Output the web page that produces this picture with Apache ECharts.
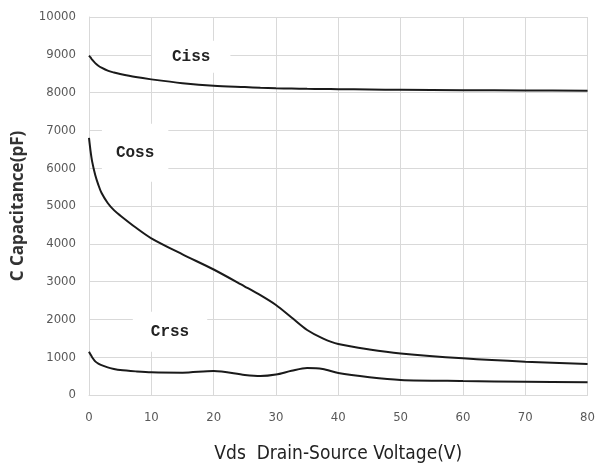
<!DOCTYPE html>
<html>
<head>
<meta charset="utf-8">
<script src="https://cdn.jsdelivr.net/npm/echarts@6/dist/echarts.min.js"></script>
<style>html,body{margin:0;padding:0;background:#fff;}#c{width:598px;height:473px;}</style>
</head>
<body>
<div id="c"></div>
<script>
// Drain-source voltage sample points (V)
var voltage = [0, 0.25, 0.5, 1, 1.5, 2, 3, 4, 5, 7.5, 10, 15, 20, 25, 27.5, 30, 32.5, 35, 37.5, 40, 45, 50, 60, 70, 80];
// Capacitances (pF)
var ciss = [8980, 8930, 8870, 8780, 8710, 8660, 8580, 8530, 8490, 8410, 8350, 8250, 8180, 8145, 8128, 8115, 8108, 8100, 8095, 8090, 8082, 8075, 8065, 8058, 8050];
var coss = [6800, 6450, 6180, 5820, 5560, 5350, 5080, 4890, 4750, 4430, 4145, 3720, 3320, 2870, 2640, 2380, 2050, 1720, 1500, 1350, 1205, 1100, 970, 880, 820];
var crss = [1145, 1070, 1000, 890, 830, 790, 730, 690, 660, 625, 600, 590, 635, 530, 500, 540, 640, 715, 690, 580, 470, 400, 370, 350, 335];
var xTicks = [0, 10, 20, 30, 40, 50, 60, 70, 80];
var yTicks = [0, 1000, 2000, 3000, 4000, 5000, 6000, 7000, 8000, 9000, 10000];
// Curve name labels: [name, V, pF]
var curveLabels = [["Ciss", 16.4, 8950], ["Coss", 7.4, 6410], ["Crss", 13, 1675]];

function pairs(ys) { return voltage.map(function (v, i) { return [v, ys[i]]; }); }

var chart = echarts.init(document.getElementById('c'), null, {renderer: 'canvas'});
var narrow = '"DejaVu Sans Condensed", "Liberation Sans Narrow", "Open Sans", sans-serif';
var labelPads = {Ciss: [8, 20, 8, 20], Coss: [22, 14, 20, 14], Crss: [16, 18, 8, 18]};
function mk(name) {
  var l = curveLabels.filter(function (c) { return c[0] === name; })[0];
  return {
    symbol: 'rect', symbolSize: 0, silent: true,
    data: [{coord: [l[1], l[2]], value: l[0]}],
    label: {show: true, position: 'inside', formatter: l[0], color: '#222',
      fontFamily: '"Liberation Mono", "DejaVu Sans Mono", monospace', fontSize: 16, fontWeight: 'bold',
      backgroundColor: '#fff', padding: labelPads[name]}
  };
}
function series(name, ys) {
  return {
    name: name, type: 'line', data: pairs(ys), smooth: 0.3, symbol: 'none',
    lineStyle: {color: '#1a1a1a', width: 2}, z: 3,
    markPoint: mk(name)
  };
}
chart.setOption({
  animation: false,
  backgroundColor: '#fff',
  grid: {left: 89, right: 9, top: 17, bottom: 78},
  xAxis: {
    type: 'value', min: xTicks[0], max: xTicks[xTicks.length - 1], interval: 10,
    name: 'Vds  Drain-Source Voltage(V)', nameLocation: 'middle', nameGap: 50,
    nameTextStyle: {fontSize: 19, color: '#222', fontFamily: narrow},
    axisLine: {show: true, lineStyle: {color: '#d9d9d9'}},
    axisTick: {show: false},
    axisLabel: {color: '#595959', fontSize: 13, margin: 16, fontFamily: narrow},
    splitLine: {show: true, lineStyle: {color: '#d9d9d9', width: 1}}
  },
  yAxis: {
    type: 'value', min: yTicks[0], max: yTicks[yTicks.length - 1], interval: 1000,
    name: 'C Capacitance(pF)', nameLocation: 'middle', nameGap: 62,
    nameTextStyle: {fontSize: 17, color: '#333', fontWeight: 'bold', fontFamily: '"Open Sans", "Noto Sans", sans-serif'},
    axisLine: {show: true, lineStyle: {color: '#d9d9d9'}},
    axisTick: {show: false},
    axisLabel: {color: '#595959', fontSize: 13, margin: 13, fontFamily: narrow,
      formatter: function (v) { return String(v); }},
    splitLine: {show: true, lineStyle: {color: '#d9d9d9', width: 1}}
  },
  series: [series('Ciss', ciss), series('Coss', coss), series('Crss', crss)]
});
</script>
</body>
</html>
